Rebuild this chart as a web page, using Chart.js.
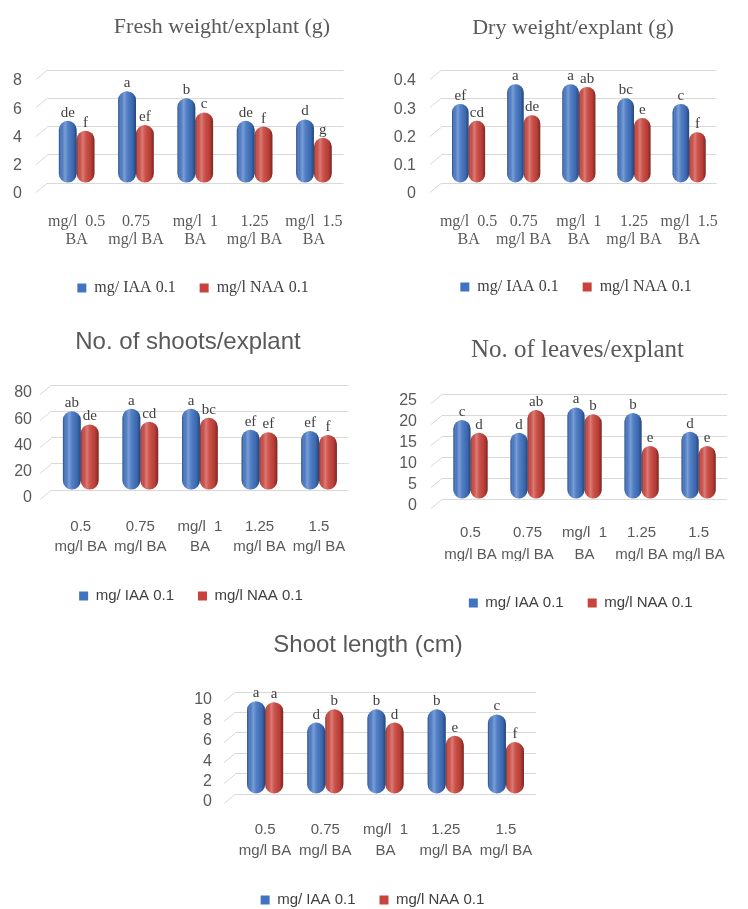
<!DOCTYPE html>
<html><head><meta charset="utf-8">
<script src="https://cdn.jsdelivr.net/npm/chart.js@4.4.1/dist/chart.umd.min.js"></script>
<style>
html,body{margin:0;padding:0;background:#fff;width:748px;height:909px;overflow:hidden;position:relative}
canvas{position:absolute}
</style></head><body>
<canvas id="c1"></canvas><canvas id="c2"></canvas><canvas id="c3"></canvas><canvas id="c4"></canvas><canvas id="c5"></canvas>
<script>
// ---------- data ----------
const categoriesSerif = [["mg/l  0.5","BA"],["0.75","mg/l BA"],["mg/l  1","BA"],["1.25","mg/l BA"],["mg/l  1.5","BA"]];
const categoriesSans  = [["0.5","mg/l BA"],["0.75","mg/l BA"],["mg/l  1","BA"],["1.25","mg/l BA"],["1.5","mg/l BA"]];
const seriesNames = ["mg/ IAA 0.1","mg/l NAA 0.1"];

const freshIAA = [4.4, 6.5, 6.0, 4.4, 4.5];
const freshNAA = [3.7, 4.1, 5.0, 4.0, 3.2];
const freshIAALetters = ["de","a","b","de","d"];
const freshNAALetters = ["f","ef","c","f","g"];
const freshTicks = [0,2,4,6,8];

const dryIAA = [0.28, 0.35, 0.35, 0.30, 0.28];
const dryNAA = [0.22, 0.24, 0.34, 0.23, 0.18];
const dryIAALetters = ["ef","a","a","bc","c"];
const dryNAALetters = ["cd","de","ab","e","f"];
const dryTicks = [0,0.1,0.2,0.3,0.4];

const shootsIAA = [60, 62, 62, 46, 45];
const shootsNAA = [50, 52, 55, 44, 42];
const shootsIAALetters = ["ab","a","a","ef","ef"];
const shootsNAALetters = ["de","cd","bc","ef","f"];
const shootsTicks = [0,20,40,60,80];

const leavesIAA = [18.8, 15.8, 21.8, 20.5, 16.0];
const leavesNAA = [15.8, 21.2, 20.2, 12.6, 12.6];
const leavesIAALetters = ["c","d","a","b","d"];
const leavesNAALetters = ["d","ab","b","e","e"];
const leavesTicks = [0,5,10,15,20,25];

const lengthIAA = [9.1, 7.0, 8.3, 8.3, 7.8];
const lengthNAA = [9.0, 8.3, 7.0, 5.7, 5.1];
const lengthIAALetters = ["a","d","b","b","c"];
const lengthNAALetters = ["a","b","d","e","f"];
const lengthTicks = [0,2,4,6,8,10];

// ---------- styles ----------
const SERIF = '"Liberation Serif", "Times New Roman", serif';
const SANS = '"Liberation Sans", Arial, sans-serif';
const BLUE = '#4173c0', RED = '#c8433b';
const GRID = '#d9d9d9', TXT = '#595959';

const placer = {
  id:'placer',
  afterLayout(chart, args, o){
    const t = chart.titleBlock;
    if (t) { const dx = o.titleX - (t.left + t.right)/2; t.left += dx; t.right += dx; }
    const l = chart.legend;
    if (l) {
      const dx = o.legendX - (l.left + l.right)/2; l.left += dx; l.right += dx;
      const dy = o.legendY - (l.top + o.lpad + o.itemH/2); l.top += dy; l.bottom += dy;
    }
  }
};
const stubs = {
  id:'stubs',
  beforeDatasetsDraw(chart){
    const {ctx, chartArea:a, scales:{y}} = chart;
    ctx.save(); ctx.strokeStyle = GRID; ctx.lineWidth = 1;
    y.ticks.forEach(t => {
      const py = Math.round(y.getPixelForValue(t.value)) + 0.5;
      ctx.beginPath(); ctx.moveTo(a.left - 11, py + 9); ctx.lineTo(a.left, py); ctx.stroke();
    });
    ctx.restore();
  }
};
const shade = {
  id:'shade',
  afterDatasetsDraw(chart){
    const ctx = chart.ctx;
    chart.data.datasets.forEach((ds, i) => {
      chart.getDatasetMeta(i).data.forEach(el => {
        const {x, y, base, width} = el.getProps(['x','y','base','width'], true);
        const l = x - width/2, top = Math.min(y, base), h = Math.abs(base - y);
        const r = Math.min(width/2, h/2);
        const g = ctx.createLinearGradient(l, 0, l + width, 0);
        g.addColorStop(0, 'rgba(0,0,30,0.38)');
        g.addColorStop(0.18, 'rgba(255,255,255,0.05)');
        g.addColorStop(0.35, 'rgba(255,255,255,0.30)');
        g.addColorStop(0.5, 'rgba(255,255,255,0.10)');
        g.addColorStop(0.8, 'rgba(0,0,0,0.08)');
        g.addColorStop(1, 'rgba(0,0,0,0.40)');
        ctx.save();
        ctx.beginPath(); ctx.roundRect(l, top, width, h, r);
        ctx.fillStyle = g; ctx.fill();
        ctx.restore();
      });
    });
  }
};
const letters = {
  id:'letters',
  afterDatasetsDraw(chart, args, o){
    const ctx = chart.ctx;
    ctx.save();
    ctx.font = '15px ' + SERIF; ctx.fillStyle = '#404040';
    ctx.textAlign = 'center'; ctx.textBaseline = 'alphabetic';
    chart.data.datasets.forEach((ds, i) => {
      chart.getDatasetMeta(i).data.forEach((el, j) => {
        ctx.fillText(o.sets[i][j], el.x, el.y - 4);
      });
    });
    ctx.restore();
  }
};

function makeChart(c){
  const cv = document.getElementById(c.id);
  cv.width = c.W; cv.height = c.H;
  cv.style.left = c.left + 'px'; cv.style.top = c.top + 'px';
  const [aL, aR, aT, aB] = c.area;
  const tS = c.titleFont.size;
  const lf = c.legendFont.size, lpad = 24, box = 9;
  const itemH = Math.max(lf, box);
  const legendH = itemH + lpad + 10;
  const xH = c.H - legendH - aB;
  const xlh = c.xFont.size * c.xFont.lineHeight;
  const common = {borderWidth:0, borderRadius:40, borderSkipped:false, categoryPercentage:0.6, barPercentage:1};
  new Chart(cv, {
    type:'bar',
    data:{labels:c.xLabels, datasets:[
      Object.assign({label:seriesNames[0], data:c.values[0], backgroundColor:BLUE}, common),
      Object.assign({label:seriesNames[1], data:c.values[1], backgroundColor:RED}, common)
    ]},
    options:{
      responsive:false, animation:false, devicePixelRatio:1,
      layout:{padding:{left:0, right:c.W - aR, top:0, bottom:0}, autoPadding:false},
      plugins:{
        title:{display:true, text:c.title, color:TXT,
          font:{family:c.titleFont.family, size:tS, weight:'normal', lineHeight:1.2},
          padding:{top:c.titleY - 0.6*tS, bottom:aT - c.titleY - 0.6*tS}},
        legend:{position:'bottom', labels:{boxWidth:box, boxHeight:box, padding:lpad, color:'#404040', font:c.legendFont}},
        tooltip:{enabled:false},
        placer:{titleX:c.titleX, legendX:c.legendX, legendY:c.legendY, lpad:lpad, itemH:itemH},
        letters:{sets:c.letters}
      },
      scales:{
        x:{grid:{display:false, drawTicks:false}, border:{display:false},
           ticks:{color:TXT, font:c.xFont, padding:c.xLine1 - aB - xlh/2, maxRotation:0, minRotation:0, autoSkip:false},
           afterFit(s){ s.height = xH; }},
        y:{min:0, max:c.ticks[c.ticks.length-1],
           afterBuildTicks(s){ s.ticks = c.ticks.map(v => ({value:v})); },
           grid:{color:GRID, drawTicks:false}, border:{display:false},
           ticks:{color:TXT, font:{family:SANS, size:16}, padding:c.yPad, labelOffset:c.yOff, autoSkip:false},
           afterFit(s){ s.width = aL; }}
      }
    },
    plugins:[placer, stubs, shade, letters]
  });
}

const layouts = [
  {id:'c1', left:0, top:0, W:374, H:305, area:[47,360,70,183], title:'Fresh weight/explant (g)',
   titleFont:{family:SERIF,size:22}, titleX:222, titleY:27, legendX:193, legendY:288,
   legendFont:{family:SERIF,size:16}, xLabels:categoriesSerif, xFont:{family:SERIF,size:16,lineHeight:1.125}, xLine1:222,
   ticks:freshTicks, yOff:11, yPad:25, values:[freshIAA,freshNAA], letters:[freshIAALetters,freshNAALetters]},
  {id:'c2', left:374, top:0, W:374, H:305, area:[67,372,70,183], title:'Dry weight/explant (g)',
   titleFont:{family:SERIF,size:22}, titleX:199, titleY:28, legendX:202, legendY:287,
   legendFont:{family:SERIF,size:16}, xLabels:categoriesSerif, xFont:{family:SERIF,size:16,lineHeight:1.125}, xLine1:222,
   ticks:dryTicks, yOff:11, yPad:25, values:[dryIAA,dryNAA], letters:[dryIAALetters,dryNAALetters]},
  {id:'c3', left:0, top:310, W:374, H:300, area:[51,357,75,180], title:'No. of shoots/explant',
   titleFont:{family:SANS,size:24}, titleX:188, titleY:32, legendX:191, legendY:286,
   legendFont:{family:SANS,size:15}, xLabels:categoriesSans, xFont:{family:SANS,size:15,lineHeight:1.333}, xLine1:217,
   ticks:shootsTicks, yOff:8, yPad:19, values:[shootsIAA,shootsNAA], letters:[shootsIAALetters,shootsNAALetters]},
  {id:'c4', left:374, top:310, W:374, H:300, area:[68,374,84,189], title:'No. of leaves/explant',
   titleFont:{family:SERIF,size:25}, titleX:203.5, titleY:40, legendX:206.7, legendY:293,
   legendFont:{family:SANS,size:15}, xLabels:categoriesSans, xFont:{family:SANS,size:15,lineHeight:1.45}, xLine1:223,
   ticks:leavesTicks, yOff:7, yPad:25, values:[leavesIAA,leavesNAA], letters:[leavesIAALetters,leavesNAALetters]},
  {id:'c5', left:180, top:610, W:380, H:299, area:[55,357,82,184], title:'Shoot length (cm)',
   titleFont:{family:SANS,size:24}, titleX:188, titleY:35, legendX:192.5, legendY:290,
   legendFont:{family:SANS,size:15}, xLabels:categoriesSans, xFont:{family:SANS,size:15,lineHeight:1.4}, xLine1:220,
   ticks:lengthTicks, yOff:8, yPad:23, values:[lengthIAA,lengthNAA], letters:[lengthIAALetters,lengthNAALetters]}
];
layouts.forEach(makeChart);
</script>
</body></html>
